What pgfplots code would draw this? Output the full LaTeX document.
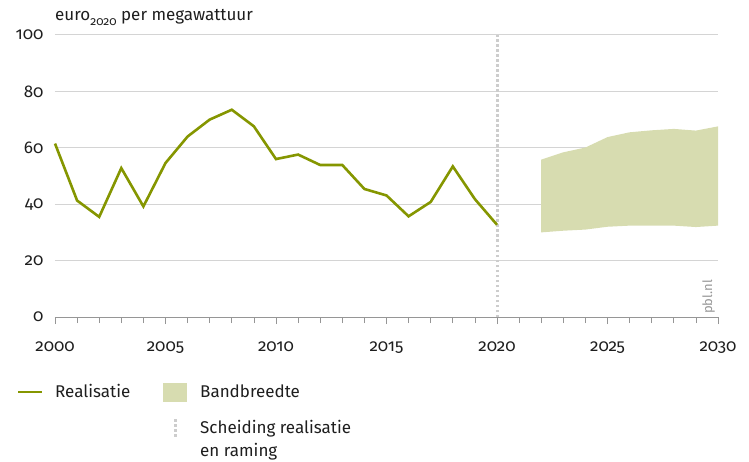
\documentclass[border=0pt]{standalone}
\usepackage{fontspec}
\setmainfont{Fira Sans}[Numbers=OldStyle]
\usepackage{pgfplots}
\pgfplotsset{compat=1.18}
\definecolor{pblgreen}{RGB}{133,150,0}
\definecolor{bandfill}{RGB}{215,220,176}
\definecolor{gridgrey}{RGB}{212,212,212}
\definecolor{sepgrey}{RGB}{205,205,205}
\definecolor{axisgrey}{RGB}{150,150,150}
\definecolor{txt}{RGB}{30,30,30}

\begin{document}
\begin{tikzpicture}[font=\fontsize{17}{20}\selectfont,text=txt]
\useasboundingbox (0pt,0pt) rectangle (749pt,-462pt);
\begin{axis}[
    at={(55pt,-35pt)}, anchor=north west,
    scale only axis, width=663pt, height=282pt,
    xmin=2000, xmax=2030, ymin=0, ymax=100,
    axis x line*=bottom, axis y line*=left,
    x axis line style={axisgrey, line width=1pt, -},
    y axis line style={draw=none},
    xtick={2000,2005,...,2030},
    minor xtick={2000,2001,...,2030},
    ytick={0,20,...,100},
    tick align=outside,
    major tick length=7pt, minor tick length=6pt,
    every tick/.style={axisgrey, line width=0.8pt},
    ytick style={draw=none},
    ymajorgrids, grid style={gridgrey, line width=1pt},
    tick label style={font=\fontsize{17}{20}\selectfont, text=txt},
    /pgf/number format/assume math mode=true,
    xticklabel style={/pgf/number format/1000 sep={}, yshift=-14pt},
    yticklabel style={xshift=-1pt},
    clip=false,
  ]
  % bandbreedte
  \addplot[fill=bandfill, draw=none] coordinates {
    (2022,55.8)(2023,58.4)(2024,60.1)(2025,63.8)(2026,65.5)
    (2027,66.2)(2028,66.7)(2029,66.1)(2030,67.6)
    (2030,32.4)(2029,31.9)(2028,32.4)(2027,32.4)(2026,32.4)
    (2025,32.0)(2024,31.0)(2023,30.6)(2022,30.0)} -- cycle;
  % scheiding
  \addplot[sepgrey, line width=3pt, dash pattern=on 2.5pt off 2.5pt] coordinates {(2020,0)(2020,100)};
  % realisatie
  \addplot[pblgreen, line width=2.6pt, line join=miter] coordinates {
    (2000,61.5)(2001,41.3)(2002,35.5)(2003,52.8)(2004,39.2)
    (2005,54.6)(2006,64.0)(2007,70.0)(2008,73.5)(2009,67.6)
    (2010,56.0)(2011,57.6)(2012,53.9)(2013,53.9)(2014,45.4)
    (2015,43.1)(2016,35.7)(2017,40.8)(2018,53.4)(2019,41.8)
    (2020,32.7)};
\end{axis}
% eenheid
\node[anchor=base west, inner sep=0pt] at (55pt,-21pt)
  {euro\raisebox{-0.45ex}{\fontsize{12}{14}\selectfont 2020} per megawattuur};
% bron
\node[anchor=base west, rotate=90, inner sep=0pt, text=axisgrey, font=\fontsize{13}{15}\selectfont] at (712pt,-314pt) {pbl.nl};
% legenda
\draw[pblgreen, line width=2.6pt] (18pt,-392pt) -- (42pt,-392pt);
\node[anchor=base west, inner sep=0pt] at (55pt,-397pt) {Realisatie};
\fill[bandfill] (163pt,-383pt) rectangle (187pt,-402pt);
\node[anchor=base west, inner sep=0pt] at (200pt,-397pt) {Bandbreedte};
\draw[sepgrey, line width=3pt, dash pattern=on 2.5pt off 2.5pt] (175pt,-419pt) -- (175pt,-437pt);
\node[anchor=base west, inner sep=0pt] at (200pt,-433pt) {Scheiding realisatie};
\node[anchor=base west, inner sep=0pt] at (200pt,-456pt) {en raming};
\end{tikzpicture}
\end{document}
